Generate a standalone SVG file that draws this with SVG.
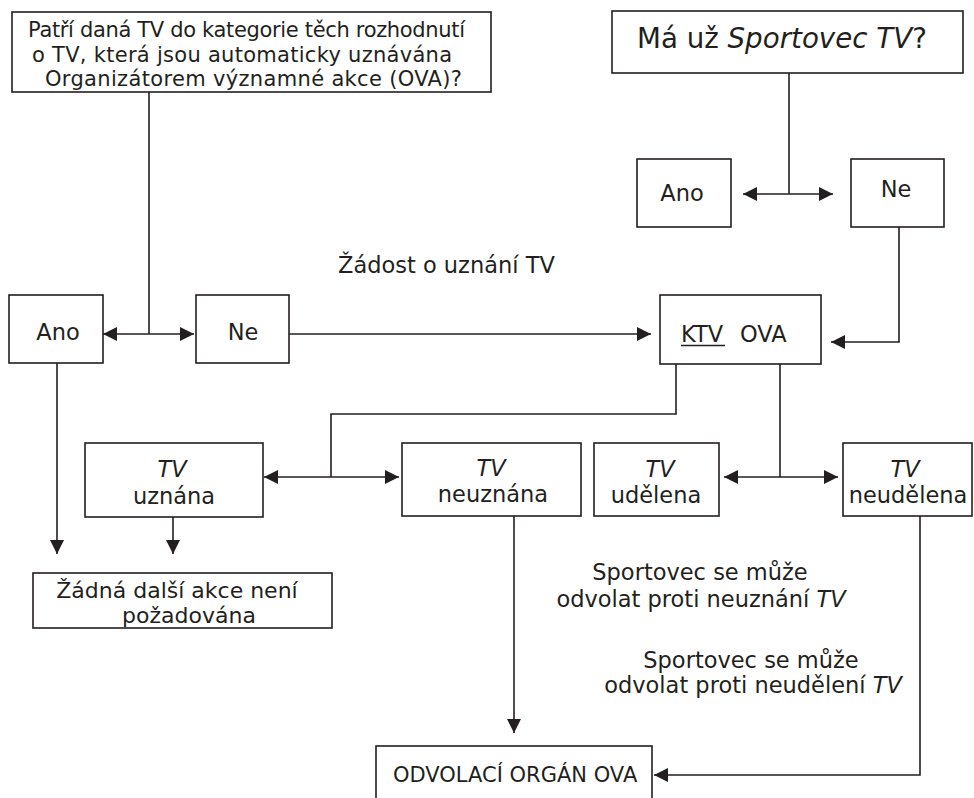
<svg xmlns="http://www.w3.org/2000/svg" width="974" height="798" viewBox="0 0 974 798">
<defs>
<marker id="ah" viewBox="0 0 14 14" refX="14" refY="7" markerWidth="14" markerHeight="14" markerUnits="userSpaceOnUse" orient="auto">
<path d="M0,0 L14,7 L0,14 z" fill="#231f20"/>
</marker>
<style>
.box{fill:#fff;stroke:#231f20;stroke-width:1.6}
.t{font-family:"DejaVu Sans","Verdana",sans-serif;font-size:22.5px;fill:#231f20}
.s{font-size:21px}
.c{text-anchor:middle}
.i{font-style:italic}
.ln{fill:none;stroke:#231f20;stroke-width:1.6}
.ar{fill:none;stroke:#231f20;stroke-width:1.6;marker-end:url(#ah)}
</style>
</defs>
<rect width="974" height="798" fill="#fff"/>

<g id="connectors">
<line class="ln" x1="149" y1="92" x2="149" y2="334"/>
<line class="ar" x1="149" y1="334" x2="103" y2="334"/>
<line class="ar" x1="149" y1="334" x2="194" y2="334"/>
<line class="ar" x1="289" y1="334" x2="651" y2="334"/>
<line class="ln" x1="789" y1="73" x2="789" y2="194"/>
<line class="ar" x1="789" y1="194" x2="743" y2="194"/>
<line class="ar" x1="789" y1="194" x2="833" y2="194"/>
<path class="ar" d="M899,227 V342 H831"/>
<path class="ln" d="M676,364 V414 H331 V477"/>
<line class="ar" x1="331" y1="477" x2="264" y2="477"/>
<line class="ar" x1="331" y1="477" x2="399" y2="477"/>
<line class="ln" x1="780" y1="364" x2="780" y2="477"/>
<line class="ar" x1="780" y1="477" x2="724" y2="477"/>
<line class="ar" x1="780" y1="477" x2="838" y2="477"/>
<line class="ar" x1="57" y1="363" x2="57" y2="554"/>
<line class="ar" x1="173" y1="517" x2="173" y2="554"/>
<line class="ar" x1="514" y1="516" x2="514" y2="733"/>
<path class="ar" d="M920,516 V775 H654"/>
</g>

<g id="q1">
<rect class="box" x="12" y="12" width="479" height="80"/>
<text class="t s" x="28" y="37" textLength="437">Patří daná TV do kategorie těch rozhodnutí</text>
<text class="t s" x="32" y="62" textLength="420">o TV, která jsou automaticky uznávána</text>
<text class="t s" x="45" y="86" textLength="417">Organizátorem významné akce (OVA)?</text>
</g>

<g id="q2">
<rect class="box" x="612" y="11" width="351" height="62"/>
<text class="t" x="637" y="48" style="font-size:27.7px">Má už <tspan class="i">Sportovec TV</tspan>?</text>
</g>

<g id="ano2">
<rect class="box" x="637" y="159" width="94" height="68"/>
<text class="t c" x="682" y="201">Ano</text>
</g>

<g id="ne2">
<rect class="box" x="851" y="159" width="93" height="68"/>
<text class="t c" x="896" y="197">Ne</text>
</g>

<g id="label-zadost">
<text class="t" x="338" y="273">Žádost o uznání TV</text>
</g>

<g id="ano1">
<rect class="box" x="9" y="295" width="94" height="68"/>
<text class="t c" x="58" y="340">Ano</text>
</g>

<g id="ne1">
<rect class="box" x="196" y="295" width="93" height="68"/>
<text class="t c" x="243" y="340">Ne</text>
</g>

<g id="ktv">
<rect class="box" x="660" y="295" width="161" height="69"/>
<text class="t" x="681" y="342">KTV</text>
<text class="t" x="740" y="342">OVA</text>
<line x1="681" y1="345.5" x2="725" y2="345.5" stroke="#231f20" stroke-width="1.6"/>
</g>

<g id="uznana">
<rect class="box" x="85" y="443" width="178" height="74"/>
<text class="t c i" x="172" y="477">TV</text>
<text class="t c" x="174" y="504">uznána</text>
</g>

<g id="neuznana">
<rect class="box" x="402" y="443" width="179" height="73"/>
<text class="t c i" x="491" y="476">TV</text>
<text class="t c" x="493" y="502">neuznána</text>
</g>

<g id="udelena">
<rect class="box" x="594" y="443" width="125" height="73"/>
<text class="t c i" x="660" y="477">TV</text>
<text class="t c" x="656" y="503">udělena</text>
</g>

<g id="neudelena">
<rect class="box" x="843" y="443" width="129" height="73"/>
<text class="t c i" x="905" y="477">TV</text>
<text class="t c" x="908" y="503">neudělena</text>
</g>

<g id="zadna">
<rect class="box" x="33" y="573" width="299" height="55"/>
<text class="t c" x="177" y="598" style="font-size:22px">Žádná další akce není</text>
<text class="t c" x="189" y="623" style="font-size:22px">požadována</text>
</g>

<g id="label-neuznani">
<text class="t c" x="700" y="580">Sportovec se může</text>
<text class="t c" x="701" y="607">odvolat proti neuznání <tspan class="i">TV</tspan></text>
</g>

<g id="label-neudeleni">
<text class="t c" x="751" y="668">Sportovec se může</text>
<text class="t c" x="753" y="693">odvolat proti neudělení <tspan class="i">TV</tspan></text>
</g>

<g id="odvolaci">
<rect class="box" x="376" y="746" width="276" height="70"/>
<text class="t" x="393" y="782" style="font-size:21px">ODVOLACÍ ORGÁN OVA</text>
</g>
</svg>
